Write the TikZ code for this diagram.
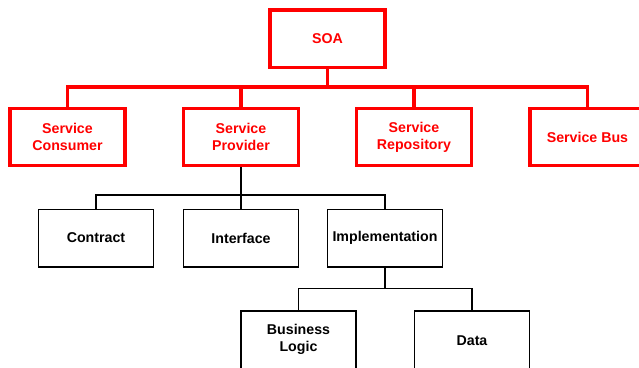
\documentclass[tikz,border=0pt]{standalone}
\usepackage{fontspec}
\setmainfont{Liberation Sans}
\begin{document}
\begin{tikzpicture}[x=1pt,y=-1pt,
  redbox/.style={draw=red,line width=3.3pt,minimum width=115pt,minimum height=57.4pt,
    text=red,font=\fontsize{14.2}{16.7}\selectfont\bfseries,align=center,inner sep=0pt},
  blackbox/.style={draw=black,line width=1.6pt,minimum width=115pt,minimum height=57.4pt,
    text=black,font=\fontsize{14.2}{16.7}\selectfont\bfseries,align=center,inner sep=0pt},
  tallbox/.style={blackbox,minimum height=64pt},
  redline/.style={draw=red,line width=3.3pt},
  blackline/.style={draw=black,line width=1.6pt}]
\clip (0,0) rectangle (639,367);
\fill[white] (0,0) rectangle (639,367);
% level 1
\node[redbox] (soa) at (327.5,38.6) {SOA};
% level 2
\node[redbox] (cons) at (67.5,137) {Service\\Consumer};
\node[redbox] (prov) at (241,137) {Service\\Provider};
\node[redbox] (repo) at (414,137) {Service\\Repository};
\node[redbox] (bus) at (587.5,137) {Service Bus};
% level 3
\node[blackbox] (contr) at (96,238) {Contract};
\node[blackbox] (intf) at (241,238) {Interface};
\node[blackbox] (impl) at (385,238) {Implementation};
% level 4 (cut off by the lower edge)
\node[tallbox] (logic) at (298.5,342.8) {};
\node[tallbox] (data) at (472,342.8) {};
\node[text=black,font=\fontsize{14.2}{16.7}\selectfont\bfseries,align=center,inner sep=0pt] (logict) at (298.5,339.5) {Business\\Logic};
\node[text=black,font=\fontsize{14.2}{16.7}\selectfont\bfseries,inner sep=0pt] (datat) at (472,340.5) {Data};
% junction coordinates
\coordinate (h1) at (327,87);
\coordinate (h2) at (241,195);
\coordinate (h3) at (385,288.3);
% red connectors
\draw[redline] (soa.south) -- (soa.south |- h1);
\draw[redline] (cons.north) |- (h1) -| (bus.north);
\draw[redline] (prov.north) -- (prov.north |- h1);
\draw[redline] (repo.north) -- (repo.north |- h1);
% black connectors
\draw[blackline] (prov.south) -- (h2);
\draw[blackline] (contr.north) |- (h2) -| (impl.north);
\draw[blackline] (intf.north) -- (intf.north |- h2);
\draw[blackline] (impl.south) -- (h3);
\draw[blackline] (logic.north) |- (h3) -| (data.north);
\end{tikzpicture}
\end{document}
